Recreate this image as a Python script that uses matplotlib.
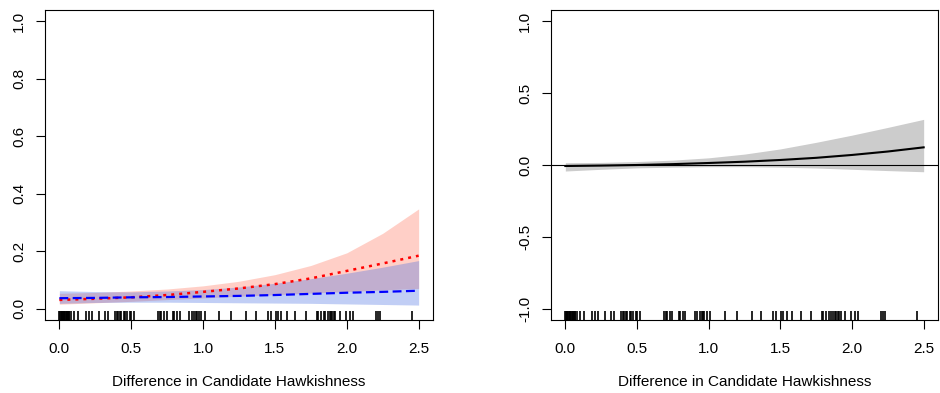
import matplotlib
matplotlib.use("Agg")
import matplotlib.pyplot as plt
import numpy as np

plt.rcParams['font.family'] = ['Liberation Sans', 'DejaVu Sans']
plt.rcParams['axes.unicode_minus'] = False

# grid of hawkishness differences the predictions were read at
hawk = [0.0, 0.25, 0.5, 0.75, 1.0, 1.25, 1.5, 1.75, 2.0, 2.25, 2.5]

# left panel: predicted probabilities
red_fit = [0.030, 0.034, 0.039, 0.047, 0.058, 0.070, 0.085, 0.105, 0.131, 0.157, 0.184]
red_lo = [0.015, 0.020, 0.025, 0.031, 0.037, 0.043, 0.048, 0.054, 0.059, 0.065, 0.070]
red_hi = [0.053, 0.056, 0.061, 0.068, 0.079, 0.095, 0.118, 0.150, 0.194, 0.262, 0.347]
blue_fit = [0.036, 0.037, 0.039, 0.040, 0.042, 0.044, 0.047, 0.051, 0.055, 0.058, 0.062]
blue_lo = [0.018, 0.021, 0.022, 0.022, 0.021, 0.020, 0.019, 0.018, 0.016, 0.014, 0.012]
blue_hi = [0.062, 0.059, 0.058, 0.061, 0.066, 0.075, 0.088, 0.104, 0.123, 0.144, 0.167]

# right panel: difference with band
diff_fit = [-0.007, -0.004, 0.000, 0.006, 0.014, 0.023, 0.035, 0.050, 0.070, 0.094, 0.123]
diff_lo = [-0.042, -0.030, -0.020, -0.015, -0.012, -0.012, -0.015, -0.021, -0.030, -0.039, -0.047]
diff_hi = [0.016, 0.018, 0.024, 0.034, 0.050, 0.076, 0.112, 0.158, 0.208, 0.262, 0.318]

# observed values for the rug
rug_x = [0.0, 0.005, 0.01, 0.015, 0.02, 0.025, 0.03, 0.035, 0.04, 0.045, 0.05,
         0.055, 0.06, 0.065, 0.07, 0.08, 0.104, 0.132, 0.186, 0.209, 0.225,
         0.279, 0.318, 0.341, 0.39, 0.40, 0.41, 0.42, 0.43, 0.45, 0.46, 0.47,
         0.49, 0.50, 0.52, 0.685, 0.70, 0.71, 0.73, 0.747, 0.79, 0.80, 0.82,
         0.836, 0.905, 0.92, 0.94, 0.95, 0.96, 0.97, 0.987, 1.01, 1.114, 1.195,
         1.30, 1.365, 1.45, 1.47, 1.504, 1.52, 1.544, 1.583, 1.641, 1.713,
         1.79, 1.80, 1.82, 1.84, 1.85, 1.87, 1.88, 1.89, 1.90, 1.91, 1.92,
         1.95, 1.996, 2.02, 2.04, 2.205, 2.215, 2.233, 2.456]

xticks = [0.0, 0.5, 1.0, 1.5, 2.0, 2.5]
left_yticks = [0.0, 0.2, 0.4, 0.6, 0.8, 1.0]
right_yticks = [-1.0, -0.5, 0.0, 0.5, 1.0]


def style_axes(ax, yticks, ylim):
    ax.set_xlim(-0.1, 2.6)
    ax.set_ylim(*ylim)
    ax.set_xticks(xticks)
    ax.set_xticklabels(["%.1f" % t for t in xticks])
    ax.set_yticks(yticks)
    ax.set_yticklabels(["%.1f" % t for t in yticks], rotation=90, va='center')
    ax.tick_params(direction='out', length=6.5, width=0.8, labelsize=11,
                   color='black')
    ax.tick_params(axis='x', pad=9)
    ax.tick_params(axis='y', pad=7)
    for s in ax.spines.values():
        s.set_linewidth(0.8)
        s.set_color('black')
    ax.set_xlabel("Difference in Candidate Hawkishness", fontsize=11, labelpad=14)
    ax.vlines(rug_x, 0, 0.03, transform=ax.get_xaxis_transform(),
              color='black', lw=1.2)


fig = plt.figure(figsize=(9.4, 3.93), dpi=100)
ax1 = fig.add_axes([45 / 940, 73 / 393, 388 / 940, 310 / 393])
ax2 = fig.add_axes([551 / 940, 73 / 393, 387 / 940, 310 / 393])

ax1.fill_between(hawk, red_lo, red_hi, color='#FF6347', alpha=0.3, lw=0)
ax1.fill_between(hawk, blue_lo, blue_hi, color='#4169E1', alpha=0.32, lw=0)
ax1.plot(hawk, red_fit, color='red', lw=1.8, linestyle=(0, (1.2, 2.0)))
ax1.plot(hawk, blue_fit, color='blue', lw=1.6, linestyle=(0, (4, 2)))
style_axes(ax1, left_yticks, (-0.04, 1.04))

ax2.fill_between(hawk, diff_lo, diff_hi, color='#CCCCCC', lw=0)
ax2.plot(hawk, diff_fit, color='black', lw=1.5)
ax2.axhline(0, color='black', lw=0.8)
style_axes(ax2, right_yticks, (-1.08, 1.08))

fig.savefig("out.png", dpi=100)
